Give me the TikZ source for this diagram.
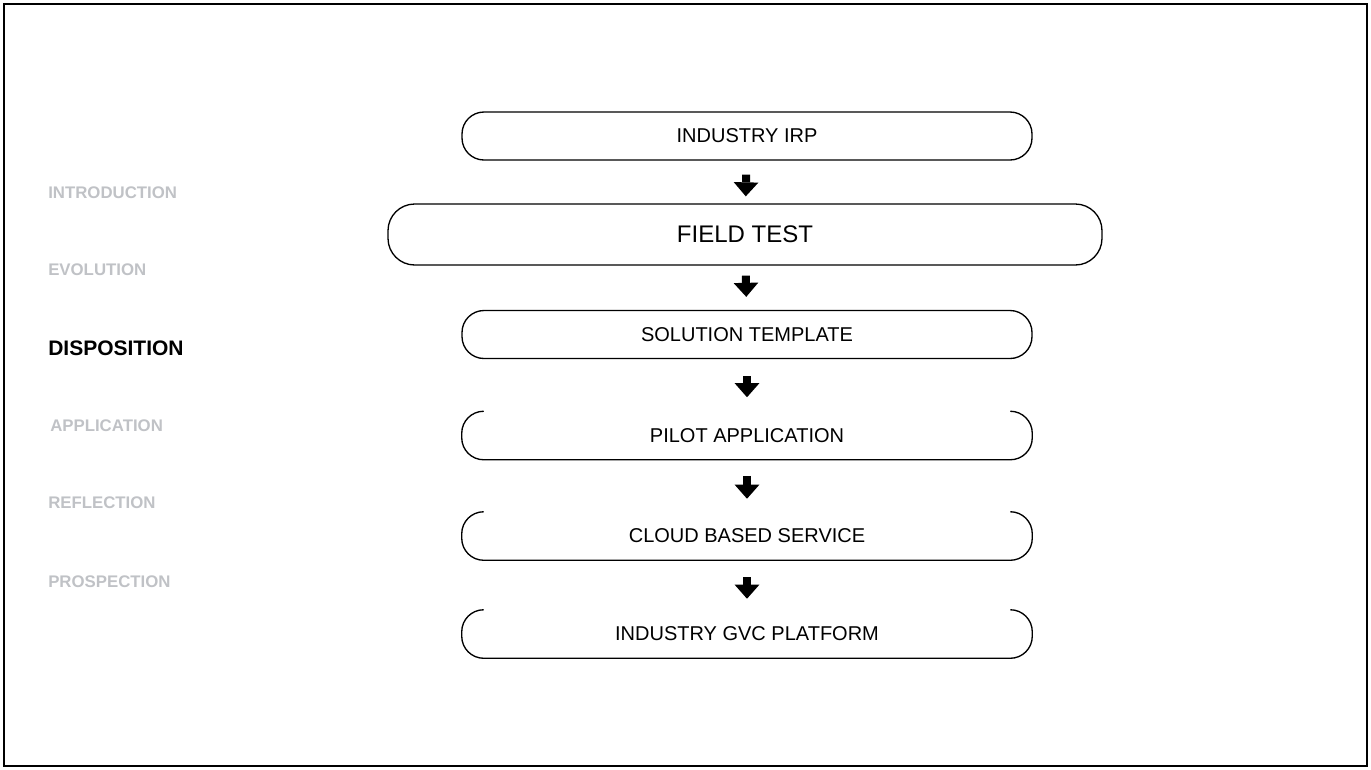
\documentclass[tikz,border=0pt]{standalone}
\usepackage{fontspec}
\setmainfont{Liberation Sans}
\usetikzlibrary{arrows.meta}
\definecolor{topicgray}{RGB}{192,194,198}

\begin{document}
\begin{tikzpicture}[x=0.75pt,y=-0.75pt,
  stage/.style={minimum width=427.5pt,minimum height=36pt,inner sep=0pt,font=\fontsize{15}{18}\selectfont},
  closedstage/.style={stage,draw,line width=1pt,rounded corners=16.5pt},
  bigstage/.style={draw,line width=1pt,rounded corners=20pt,minimum width=535.5pt,minimum height=45.75pt,inner sep=0pt,font=\fontsize{18}{21}\selectfont},
  topic/.style={anchor=west,inner sep=0pt,text=topicgray,font=\fontsize{12.6}{15}\selectfont\bfseries},
  flow/.style={line width=6pt,-{Triangle[width=18.5pt,length=10.5pt,line width=0pt]}}]
\useasboundingbox (0,0) rectangle (1371,769);
\draw[line width=1.1pt] (4,4) rectangle (1367,766);

% left menu
\node[topic] (intro) at (48,193) {INTRODUCTION};
\node[topic] (evol) at (48,270) {EVOLUTION};
\node[topic,text=black,font=\fontsize{15.75}{18}\selectfont\bfseries] (disp) at (48,348) {DISPOSITION};
\node[topic] (appl) at (50,426) {APPLICATION};
\node[topic] (refl) at (48,503) {REFLECTION};
\node[topic] (prosp) at (48,582) {PROSPECTION};

% stages
\node[closedstage] (irp) at (747,136) {INDUSTRY IRP};
\node[bigstage] (field) at (745,234.5) {FIELD TEST};
\node[closedstage] (templ) at (747,334.5) {SOLUTION TEMPLATE};
\node[stage] (pilot) at (747,435.5) {PILOT APPLICATION};
\node[stage] (cloud) at (747,536) {CLOUD BASED SERVICE};
\node[stage] (gvc) at (747,634) {INDUSTRY GVC PLATFORM};

% open outlines (no top line)
\foreach \s in {pilot,cloud,gvc}
  \draw[line width=1pt,rounded corners=16.5pt] ([xshift=16.5pt]\s.north west) -- (\s.north west) -- (\s.south west) -- (\s.south east) -- (\s.north east) -- ([xshift=-16.5pt]\s.north east);

% arrows
\draw[flow,shorten <=10.5pt,shorten >=5.25pt] (irp) -- (field);
\draw[flow,shorten <=7.5pt,shorten >=9.75pt] (field) -- (templ);
\draw[flow,shorten <=12.75pt,shorten >=10.5pt] (templ) -- (pilot);
\draw[flow,shorten <=12pt,shorten >=9.75pt] (pilot) -- (cloud);
\draw[flow,shorten <=12.75pt,shorten >=8.25pt] (cloud) -- (gvc);
\end{tikzpicture}
\end{document}
